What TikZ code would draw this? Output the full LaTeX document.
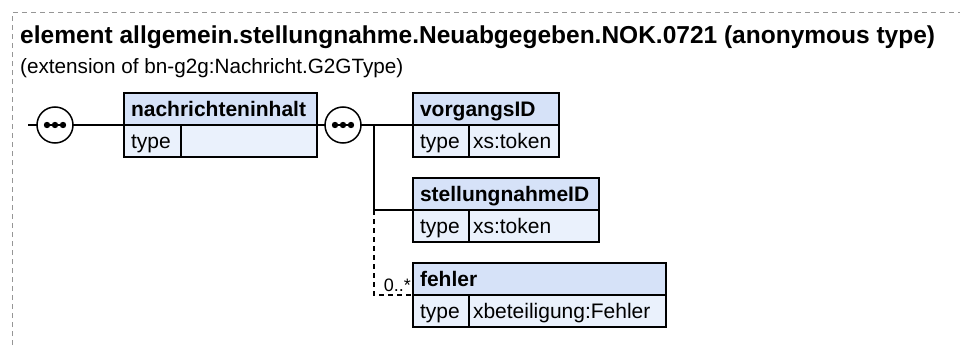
\documentclass[tikz,border=0pt]{standalone}
\usepackage{fontspec}
\setmainfont{Liberation Sans}
\definecolor{hdrfill}{RGB}{214,226,248}
\definecolor{typfill}{RGB}{234,241,252}
\definecolor{framegray}{RGB}{150,150,150}
\tikzset{
  hdr/.style={draw, fill=hdrfill, line width=1.4pt, anchor=north west, minimum height=32pt,
    inner xsep=7pt, inner ysep=0pt, outer sep=0pt, text height=15pt, text depth=0pt, align=left,
    font=\fontsize{21}{25}\selectfont\bfseries},
  typcell/.style={draw, fill=typfill, line width=1.4pt, anchor=north west, minimum height=32pt,
    inner xsep=7pt, inner ysep=0pt, outer sep=0pt, text height=15pt, text depth=0pt, align=left,
    text width=42pt, font=\fontsize{21}{25}\selectfont},
  valcell/.style={draw, fill=typfill, line width=1.4pt, anchor=north west, minimum height=32pt,
    inner xsep=4pt, inner ysep=0pt, outer sep=0pt, text height=15pt, text depth=0pt, align=left,
    font=\fontsize{21}{25}\selectfont},
  compositor/.style={circle, draw, fill=white, line width=1.5pt, minimum size=36pt, inner sep=0pt, outer sep=0pt},
  conn/.style={line width=1.4pt},
  optconn/.style={line width=1.2pt, dash pattern=on 5pt off 4pt},
}
\newcommand{\seqdots}[1]{%
  \draw[line width=1.6pt] ([xshift=-11pt]#1.center) -- ([xshift=11pt]#1.center);
  \fill ([xshift=-8pt]#1.center) circle (3.2pt);
  \fill (#1.center) circle (3.2pt);
  \fill ([xshift=8pt]#1.center) circle (3.2pt);}
\begin{document}
\begin{tikzpicture}[x=1pt,y=-1pt]
\useasboundingbox (0,0) rectangle (965,345);
% frame (top and left only)
\draw[framegray, line width=1pt, dash pattern=on 5pt off 4pt] (12,345) -- (12,13) -- (960,13);
% title
\node[anchor=base west, inner sep=0pt, font=\fontsize{24.5}{28}\selectfont\bfseries] (title) at (20,44)
  {element allgemein.stellungnahme.Neuabgegeben.NOK.0721 (anonymous type)};
\node[anchor=base west, inner sep=0pt, font=\fontsize{20.7}{25}\selectfont] (subtitle) at (20,73)
  {(extension of bn-g2g:Nachricht.G2GType)};
% compositors
\coordinate (start) at (28,125);
\node[compositor] (c1) at (55,125) {};
\node[compositor] (c2) at (343,125) {};
% nachrichteninhalt
\node[hdr, text width=179pt] (nh) at (124,93) {nachrichteninhalt};
\node[typcell, text width=43pt] (nt) at (124,125) {type};
\node[valcell, minimum width=136pt] (nv) at (181,125) {};
% vorgangsID
\node[hdr, text width=132pt] (vh) at (413,93) {vorgangsID};
\node[typcell] (vt) at (413,125) {type};
\node[valcell, minimum width=90pt, text width=82pt] (vv) at (469,125) {xs:token};
% stellungnahmeID
\node[hdr, text width=172pt] (sh) at (413,178) {stellungnahmeID};
\node[typcell] (st) at (413,210) {type};
\node[valcell, minimum width=130pt, text width=122pt] (sv) at (469,210) {xs:token};
% fehler
\node[hdr, text width=239pt] (fh) at (413,263) {fehler};
\node[typcell] (ft) at (413,295) {type};
\node[valcell, minimum width=197pt, text width=189pt] (fv) at (469,295) {xbeteiligung:Fehler};
% connectors
\draw[conn] (start) -- (c1.west);
\draw[conn] (c1.east) -- (nh.south west |- c1.east);
\draw[conn] (nh.south east |- c2.west) -- (c2.west);
\draw[conn] (c2.east) -- (vh.south west |- c2.east);
\coordinate (j) at (374,125);
\draw[conn] (j) -- (j |- sh.south west) -- (sh.south west);
\draw[optconn] (j |- sh.south west) -- (j |- fh.south west) -- (fh.south west);
\node[anchor=base east, inner sep=0pt, font=\fontsize{18}{20}\selectfont] (card) at (411,291) {0..*};
\seqdots{c1}
\seqdots{c2}
\end{tikzpicture}
\end{document}
